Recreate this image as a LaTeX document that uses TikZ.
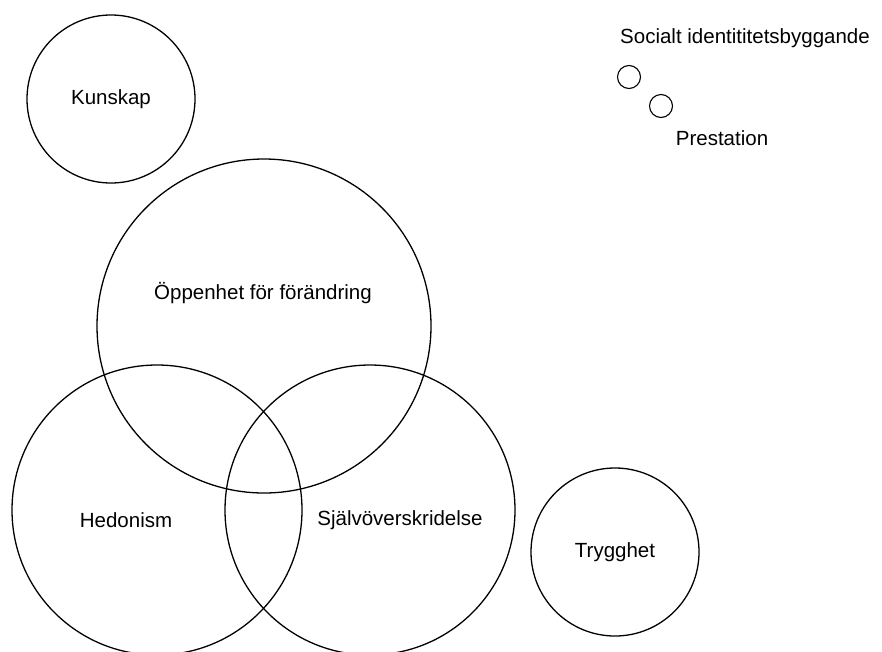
\documentclass[tikz,border=0pt]{standalone}
\usepackage{fontspec}
\setmainfont{Liberation Sans}
\usetikzlibrary{positioning}

\tikzset{
    ring/.style={line width=1.3pt},
    lbl/.style={font=\fontsize{20.5}{24}\selectfont, inner sep=0pt}
}

\begin{document}
\begin{tikzpicture}[x=1pt, y=-1pt]
\useasboundingbox (0,0) rectangle (882,651);
\clip (0,0) rectangle (882,651);

\draw[ring](111,99) circle(84);
\node[lbl] (kunskap) at (111,99) {Kunskap};

\draw[ring](264,326) circle(167);
\node[lbl] (oppenhet) at (263,293) {Öppenhet för förändring};

\draw[ring](157,510) circle(145);
\node[lbl] (hedonism) at (126,520) {Hedonism};

\draw[ring](370,510) circle(145);
\node[lbl] (sjalv) at (400,520) {Självöverskridelse};

\draw[ring](615,552) circle(84);
\node[lbl] (trygghet) at (615,552) {Trygghet};

% two small ones up right
\draw[line width=1.1pt](629,77) circle(11.5);
\draw[line width=1.1pt](661,106) circle(11.5);
\node[lbl] (socialt) at (745,38) {Socialt identititetsbyggande};
\node[lbl] (prestation) at (722,138) {Prestation};

\end{tikzpicture}
\end{document}
